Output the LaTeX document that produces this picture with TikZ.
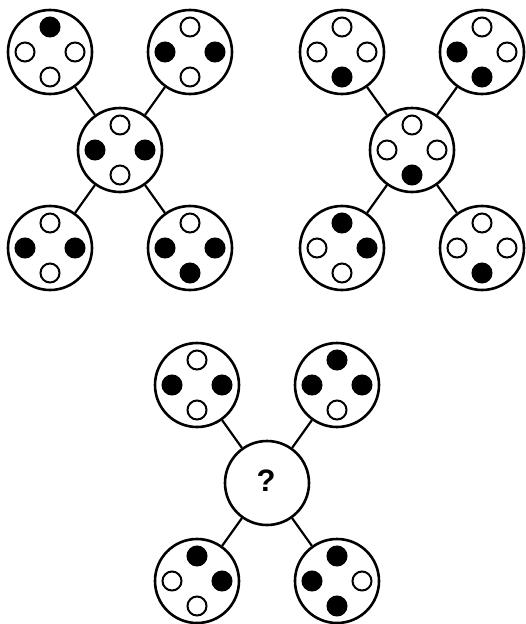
\documentclass[tikz,border=0pt]{standalone}
\usepackage{fontspec}
\setsansfont{Liberation Sans}
\usepackage{tikz}

\begin{document}
\begin{tikzpicture}[
  x=1pt, y=-1pt,
  ring/.style={draw, circle, line width=2.6pt, minimum size=84pt, inner sep=0pt, fill=white},
  hole/.style={draw, circle, line width=2pt, minimum size=19pt, inner sep=0pt, fill=white},
  blob/.style={hole, fill=black},
  link/.style={line width=2.2pt},
]
\useasboundingbox (0,0) rectangle (525,624);
% three stars of rings
\foreach \k/\cx/\cy in {a/120/150, b/412/150, c/267/483}{
  \node[ring] (\k) at (\cx,\cy) {};
  \foreach \p/\dx/\dy in {tl/-70/-98, tr/70/-98, bl/-70/98, br/70/98}{
    \node[ring] (\k\p) at (\cx+\dx,\cy+\dy) {};
    \draw[link] (\k) -- (\k\p);
  }
}
% four dots per ring: top / left / right / bottom
\foreach \q/\nt/\nl/\nr/\nb in {
  atl/blob/hole/hole/hole, atr/hole/blob/blob/hole, a/hole/blob/blob/hole,
  abl/hole/blob/blob/hole, abr/hole/blob/blob/blob,
  btl/hole/hole/hole/blob, btr/hole/blob/hole/blob, b/hole/hole/hole/blob,
  bbl/blob/hole/blob/hole, bbr/hole/hole/hole/blob,
  ctl/hole/blob/blob/hole, ctr/blob/blob/blob/hole,
  cbl/blob/hole/blob/hole, cbr/blob/blob/hole/blob}{
  \node[\nt] (\q-t) at ([yshift=25pt]\q.center) {};
  \node[\nl] (\q-l) at ([xshift=-25pt]\q.center) {};
  \node[\nr] (\q-r) at ([xshift=25pt]\q.center) {};
  \node[\nb] (\q-b) at ([yshift=-25pt]\q.center) {};
}
\node[font=\sffamily\bfseries\fontsize{31}{31}\selectfont] (qmark) at ([xshift=-1pt, yshift=2pt]c.center) {?};
\end{tikzpicture}
\end{document}
